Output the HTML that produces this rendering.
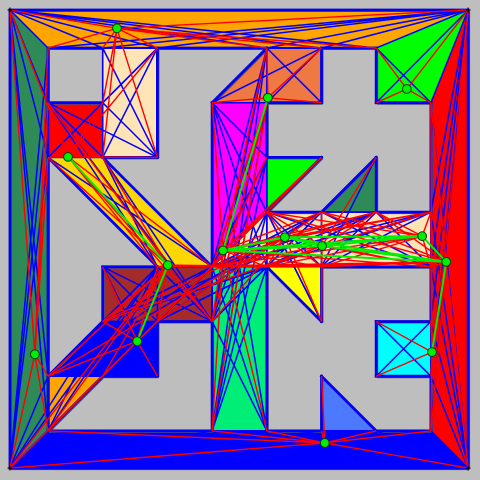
<!DOCTYPE html>
<html>
<head>
<meta charset="utf-8">
<title>Visibility graph</title>
<style>
html,body{margin:0;padding:0;background:#bebebe;width:480px;height:480px;overflow:hidden}
svg{display:block}
</style>
</head>
<body>
<svg id="plot" width="480" height="480" viewBox="0 0 480 480" xmlns="http://www.w3.org/2000/svg"></svg>
<script>
// Data is in grid units: column/row 0..7 is the inner lattice, the frame sits just outside it.
const LO = -0.695, HI = 7.68;
const regionNames = ['left-band','top-band','corner-green','right-band','bottom-band','red-square','cream-rect','coral-shape','magenta-shape','green-triangle','teal-triangle','cream-band','yellow-triangle','gold-strip','brown-rect','blue-shape','orange-triangle','spring-rect','cyan-square','royal-triangle'];
const regionColors = ['#2e8b57','#ffa500','#00ff00','#ff0000','#0000ff','#ff0000','#ffe4b5','#ee7942','#ff00ff','#00ff00','#2e8b57','#ffe4b5','#ffff00','#ffd700','#a52a2a','#0000ff','#ffa500','#00ee76','#00ffff','#4d79ff'];
const regionVertices = [
 [[LO,LO],[0,0],[0,7],[LO,HI]],
 [[LO,LO],[HI,LO],[6,0],[5,0],[4,0],[2,0],[1,0],[0,0]],
 [[HI,LO],[7,1],[6,1],[6,0]],
 [[HI,LO],[HI,HI],[7,7],[7,6],[7,5],[7,4],[7,3],[7,1]],
 [[LO,HI],[0,7],[3,7],[4,7],[5,7],[6,7],[7,7],[HI,HI]],
 [[0,1],[1,1],[1,2],[0,2]],
 [[1,0],[2,0],[2,2],[1,2]],
 [[3,1],[4,0],[5,0],[5,1],[4,1]],
 [[3,1],[4,1],[4,2],[4,3],[3,4]],
 [[4,2],[5,2],[4,3]],
 [[5,3],[6,2],[6,3]],
 [[4,3],[5,3],[6,3],[7,3],[7,4],[5,4],[4,4],[3,4]],
 [[4,4],[5,4],[5,5]],
 [[0,2],[1,2],[3,4],[2,4]],
 [[1,4],[2,4],[3,4],[3,5],[2,5],[1,5]],
 [[1,5],[2,5],[2,6],[1,6],[0,6]],
 [[0,6],[1,6],[0,7]],
 [[3,4],[4,4],[4,7],[3,7],[3,5]],
 [[6,5],[7,5],[7,6],[6,6]],
 [[5,6],[6,7],[5,7]]
];
const guardCols = [1.26,0.366,2.19,1.63,-0.24,4.02,6.56,3.2,4.33,5.01,6.84,7.28,7.02,5.06];
const guardRows = [-0.36,1.99,3.97,5.36,5.6,0.91,0.75,3.7,3.46,3.62,3.44,3.91,5.56,7.22];

const xScale = c => 48 + 54.7 * c;
const yScale = r => 48 + 54.7 * r;
const NS = 'http://www.w3.org/2000/svg';
const svg = document.getElementById('plot');

const polys = regionVertices.map(p => p.map(v => [xScale(v[0]), yScale(v[1])]));

function nearEdge(px, py, poly, tol) {
  for (let i = 0; i < poly.length; i++) {
    const a = poly[i], b = poly[(i + 1) % poly.length];
    const dx = b[0] - a[0], dy = b[1] - a[1];
    let t = ((px - a[0]) * dx + (py - a[1]) * dy) / (dx * dx + dy * dy);
    t = Math.max(0, Math.min(1, t));
    const ex = a[0] + t * dx - px, ey = a[1] + t * dy - py;
    if (ex * ex + ey * ey < tol * tol) return true;
  }
  return false;
}
function inside(px, py, poly) {
  let c = false;
  for (let i = 0, j = poly.length - 1; i < poly.length; j = i++) {
    const a = poly[i], b = poly[j];
    if ((a[1] > py) !== (b[1] > py) && px < (b[0] - a[0]) * (py - a[1]) / (b[1] - a[1]) + a[0]) c = !c;
  }
  return c;
}
function free(px, py) {
  for (const poly of polys) {
    if (inside(px, py, poly) || nearEdge(px, py, poly, 0.45)) return true;
  }
  return false;
}
function visible(a, b) {
  const len = Math.hypot(b[0] - a[0], b[1] - a[1]);
  const n = Math.max(2, Math.ceil(len));
  for (let i = 1; i < n; i++) {
    if (!free(a[0] + (b[0] - a[0]) * i / n, a[1] + (b[1] - a[1]) * i / n)) return false;
  }
  return true;
}

// unique lattice vertices
const seen = {};
const verts = [];
polys.forEach(p => p.forEach(v => {
  const k = v[0].toFixed(2) + ',' + v[1].toFixed(2);
  if (!seen[k]) { seen[k] = 1; verts.push(v); }
}));
const guards = guardCols.map((c, i) => [xScale(c), yScale(guardRows[i])]);

// region fills
polys.forEach((p, i) => {
  const el = document.createElementNS(NS, 'polygon');
  el.setAttribute('points', p.map(v => v.join(',')).join(' '));
  el.setAttribute('fill', regionColors[i]);
  
  
  svg.appendChild(el);
});

// shadow + boundaries of the free space (only edges not shared by two regions)
function isShared(a, b, own) {
  const mx = (a[0] + b[0]) / 2, my = (a[1] + b[1]) / 2;
  const nx = -(b[1] - a[1]), ny = b[0] - a[0], L = Math.hypot(nx, ny);
  const ox = nx / L * 2, oy = ny / L * 2;
  return free(mx + ox, my + oy) && free(mx - ox, my - oy);
}
polys.forEach((p, i) => {
  p.forEach((a, k) => {
    const b = p[(k + 1) % p.length];
    if (isShared(a, b, i)) return;
    const sh = document.createElementNS(NS, 'line');
    sh.setAttribute('x1', a[0] + 1); sh.setAttribute('y1', a[1] + 1);
    sh.setAttribute('x2', b[0] + 1); sh.setAttribute('y2', b[1] + 1);
    sh.setAttribute('stroke', '#555577');
    sh.setAttribute('stroke-width', '2');
    
    
    svg.appendChild(sh);
    const ln = document.createElementNS(NS, 'line');
    ln.setAttribute('x1', a[0]); ln.setAttribute('y1', a[1]);
    ln.setAttribute('x2', b[0]); ln.setAttribute('y2', b[1]);
    ln.setAttribute('stroke', '#0000dd');
    ln.setAttribute('stroke-width', '2.8');
    ln.setAttribute('stroke-linecap', 'square');
    
    
    svg.appendChild(ln);
  });
});

// vertex-to-vertex sight lines
for (let i = 0; i < verts.length; i++) {
  for (let j = i + 1; j < verts.length; j++) {
    if (!visible(verts[i], verts[j])) continue;
    const ln = document.createElementNS(NS, 'line');
    ln.setAttribute('x1', verts[i][0]); ln.setAttribute('y1', verts[i][1]);
    ln.setAttribute('x2', verts[j][0]); ln.setAttribute('y2', verts[j][1]);
    ln.setAttribute('stroke', '#0000ff');
    ln.setAttribute('stroke-width', '1.5');
    
    
    svg.appendChild(ln);
  }
}
// guard-to-vertex sight lines
guards.forEach(g => {
  verts.forEach(v => {
    if (!visible(g, v)) return;
    const ln = document.createElementNS(NS, 'line');
    ln.setAttribute('x1', g[0]); ln.setAttribute('y1', g[1]);
    ln.setAttribute('x2', v[0]); ln.setAttribute('y2', v[1]);
    ln.setAttribute('stroke', '#ff0000');
    ln.setAttribute('stroke-width', '1.4');
    
    
    svg.appendChild(ln);
  });
});
// guard-to-guard sight lines
for (let i = 0; i < guards.length; i++) {
  for (let j = i + 1; j < guards.length; j++) {
    if (!visible(guards[i], guards[j])) continue;
    const ln = document.createElementNS(NS, 'line');
    ln.setAttribute('x1', guards[i][0]); ln.setAttribute('y1', guards[i][1]);
    ln.setAttribute('x2', guards[j][0]); ln.setAttribute('y2', guards[j][1]);
    ln.setAttribute('stroke', '#00ee00');
    ln.setAttribute('stroke-width', '2');
    
    
    svg.appendChild(ln);
  }
}
// corner ticks
[[LO,LO],[HI,LO],[LO,HI],[HI,HI]].forEach(c => {
  const x = xScale(c[0]), y = yScale(c[1]);
  const t = document.createElementNS(NS, 'path');
  t.setAttribute('d', 'M' + (x - 2.5) + ' ' + y + 'H' + (x + 2.5) + 'M' + x + ' ' + (y - 2.5) + 'V' + (y + 2.5));
  t.setAttribute('stroke', '#000');
  t.setAttribute('stroke-width', '1');
  
  
  svg.appendChild(t);
});
// guards
guards.forEach(g => {
  const d = document.createElementNS(NS, 'circle');
  d.setAttribute('cx', g[0]);
  d.setAttribute('cy', g[1]);
  d.setAttribute('r', '4.4');
  d.setAttribute('fill', '#00ee00');
  d.setAttribute('stroke', '#064006');
  d.setAttribute('stroke-width', '1');
  
  
  svg.appendChild(d);
});
</script>
</body>
</html>
